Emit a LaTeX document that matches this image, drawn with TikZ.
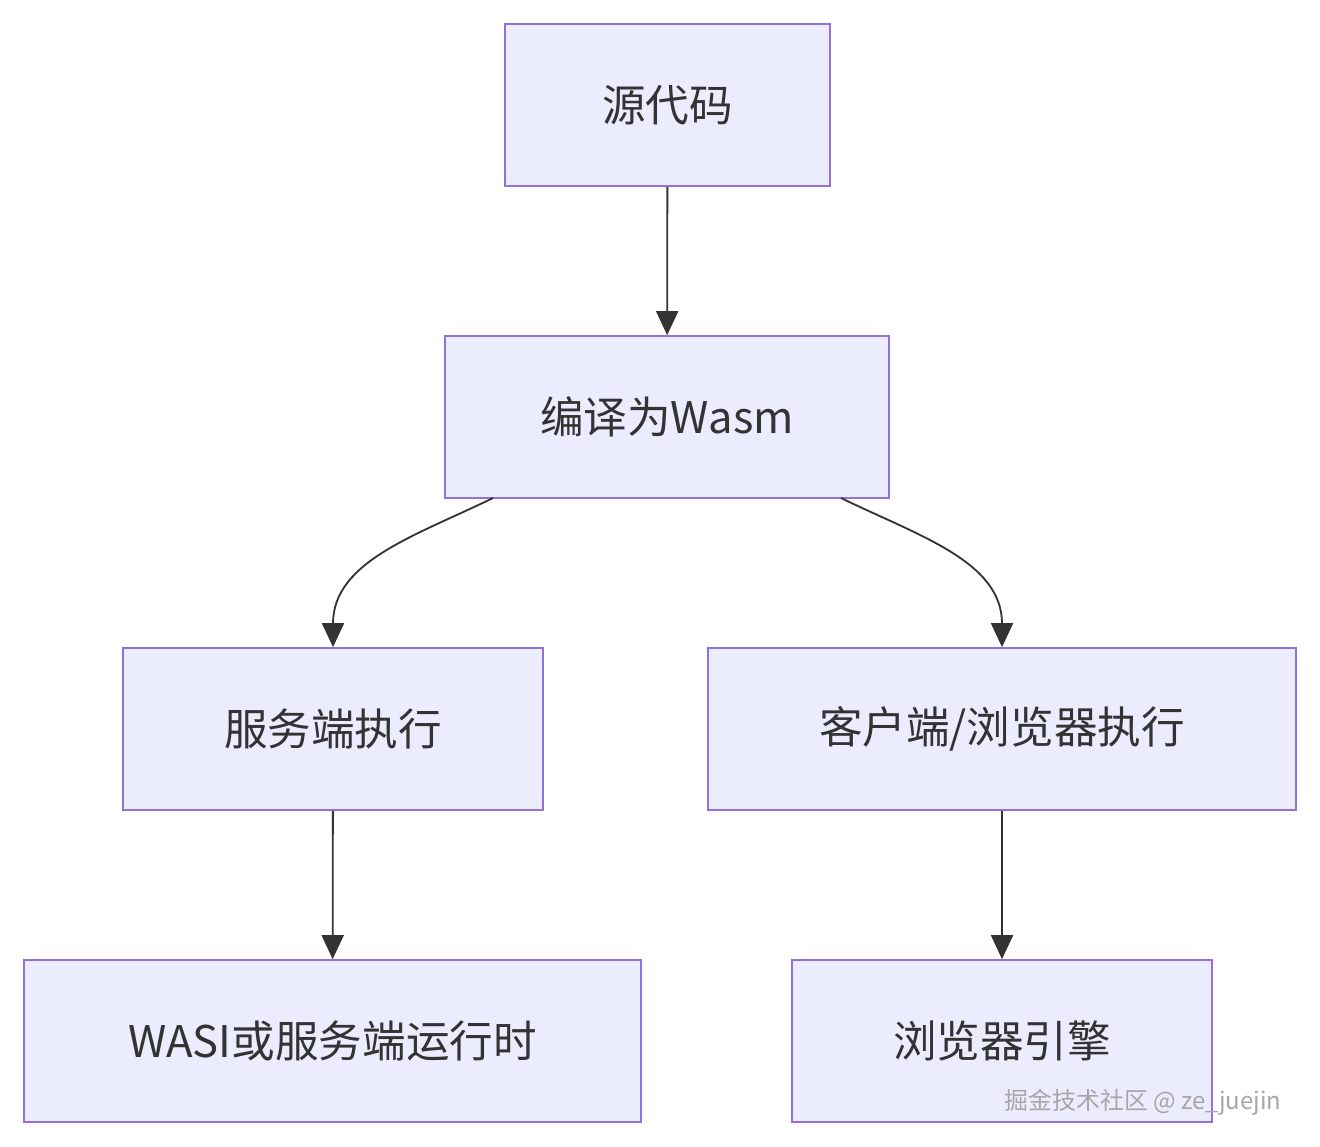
\documentclass[tikz,border=0pt]{standalone}
\usepackage{fontspec}
\setmainfont{Noto Sans CJK SC}
\usetikzlibrary{positioning,arrows.meta}
\definecolor{boxfill}{HTML}{ECECFF}
\definecolor{boxline}{HTML}{9370DB}
\definecolor{arrowcol}{HTML}{333333}
\tikzset{
  box/.style={draw=boxline, fill=boxfill, line width=1.2pt, minimum height=162*0.025cm,
    font=\fontsize{31}{36}\selectfont, text=arrowcol, inner sep=0pt},
  link/.style={draw=arrowcol, line width=1.3pt, -{Triangle[length=0.6cm,width=0.55cm]}}
}
\begin{document}
\begin{tikzpicture}[x=0.025cm, y=-0.025cm]
\useasboundingbox (0,0) rectangle (1320,1146);

%---------BOXES-----------%
\node[box, minimum width=325*0.025cm] (src) at (667.5,105) {源代码};
\node[box, minimum width=444*0.025cm] (wasm) at (667,417) {编译为Wasm};
\node[box, minimum width=420*0.025cm] (server) at (333,729) {服务端执行};
\node[box, minimum width=588*0.025cm] (client) at (1002,729) {客户端/浏览器执行};
\node[box, minimum width=617*0.025cm] (wasi) at (332.5,1041) {WASI或服务端运行时};
\node[box, minimum width=420*0.025cm] (engine) at (1002,1041) {浏览器引擎};

%---------LINKS-----------%
\coordinate (wl) at (493,498);
\coordinate (wr) at (841,498);
\draw[link] (src) -- (wasm);
\draw[link] (wl) to[out=-154,in=90] (server.north);
\draw[link] (wr) to[out=-26,in=90] (client.north);
\draw[link] (server) -- (wasi);
\draw[link] (client) -- (engine);

%---------WATERMARK-----------%
\node[text=gray!70, font=\fontsize{17}{20}\selectfont] (mark) at (1143,1102) {掘金技术社区 @ ze\_juejin};
\end{tikzpicture}
\end{document}
